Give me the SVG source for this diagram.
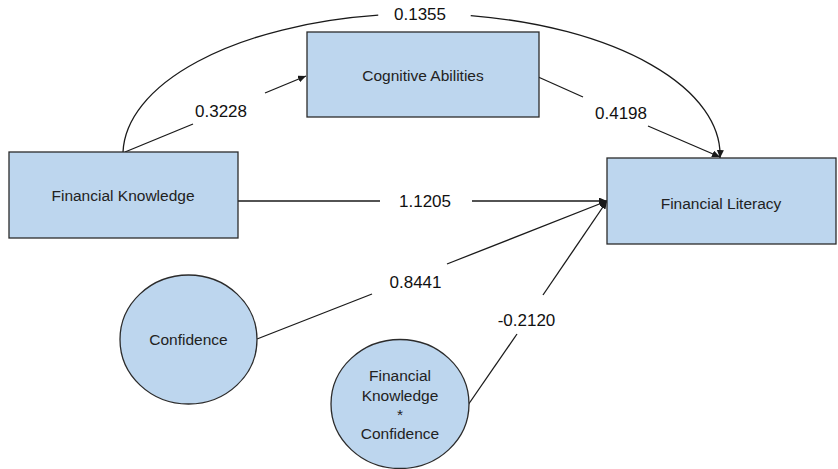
<svg xmlns="http://www.w3.org/2000/svg" width="838" height="469" viewBox="0 0 838 469">
<style>
.node{fill:#bdd6ee;stroke:#2b2b2b;stroke-width:1.3}
.nt{font-family:"Liberation Sans",Arial,sans-serif;font-size:15.5px;fill:#222;text-anchor:middle}
.lbl{font-family:"Liberation Sans",Arial,sans-serif;font-size:17px;fill:#111;text-anchor:middle}
.edge{fill:none;stroke:#1a1a1a;stroke-width:1.3}
</style>
<defs>
<marker id="arr" markerUnits="userSpaceOnUse" markerWidth="9" markerHeight="7" refX="8" refY="3.5" orient="auto">
<path d="M0,0 L8,3.5 L0,7 z" fill="#1a1a1a"/>
</marker>
</defs>
<rect width="838" height="469" fill="#fff"/>
<g id="connectors">
<path class="edge" d="M123,152 A298,141 0 0 1 720,158" pathLength="100" stroke-dasharray="43.5 13 100" marker-end="url(#arr)"/>
<line class="edge" x1="125" y1="152" x2="193" y2="124"/>
<line class="edge" x1="265" y1="93" x2="306" y2="76" marker-end="url(#arr)"/>
<line class="edge" x1="536" y1="76" x2="583" y2="97"/>
<line class="edge" x1="648" y1="126" x2="720" y2="157" marker-end="url(#arr)"/>
<line class="edge" x1="238" y1="201" x2="380" y2="201"/>
<line class="edge" x1="472" y1="201" x2="607" y2="201" marker-end="url(#arr)"/>
<line class="edge" x1="257" y1="339" x2="372" y2="294"/>
<line class="edge" x1="447" y1="264" x2="607" y2="201" marker-end="url(#arr)"/>
<line class="edge" x1="468" y1="405" x2="517" y2="334"/>
<line class="edge" x1="543" y1="295" x2="607" y2="201" marker-end="url(#arr)"/>
<text class="lbl" x="420" y="20">0.1355</text>
<text class="lbl" x="221" y="117">0.3228</text>
<text class="lbl" x="621" y="119">0.4198</text>
<text class="lbl" x="425" y="207">1.1205</text>
<text class="lbl" x="415.5" y="287.5">0.8441</text>
<text class="lbl" x="526.5" y="326">-0.2120</text>
</g>
<g id="financial-knowledge">
<rect class="node" x="9" y="152" width="229" height="86"/>
<text class="nt" x="123" y="200.5">Financial Knowledge</text>
</g>
<g id="cognitive-abilities">
<rect class="node" x="307" y="32" width="232" height="85"/>
<text class="nt" x="423" y="80.5">Cognitive Abilities</text>
</g>
<g id="financial-literacy">
<rect class="node" x="607" y="158" width="229" height="86"/>
<text class="nt" x="721" y="208.5">Financial Literacy</text>
</g>
<g id="confidence">
<ellipse class="node" cx="188.5" cy="339.5" rx="68.5" ry="64.5"/>
<text class="nt" x="188.5" y="345">Confidence</text>
</g>
<g id="fk-x-confidence">
<ellipse class="node" cx="400" cy="404" rx="69" ry="64.5"/>
<text class="nt" x="400" y="380.5">Financial</text>
<text class="nt" x="400" y="400.5">Knowledge</text>
<text class="nt" x="400" y="419.5">*</text>
<text class="nt" x="400" y="438.5">Confidence</text>
</g>
</svg>
